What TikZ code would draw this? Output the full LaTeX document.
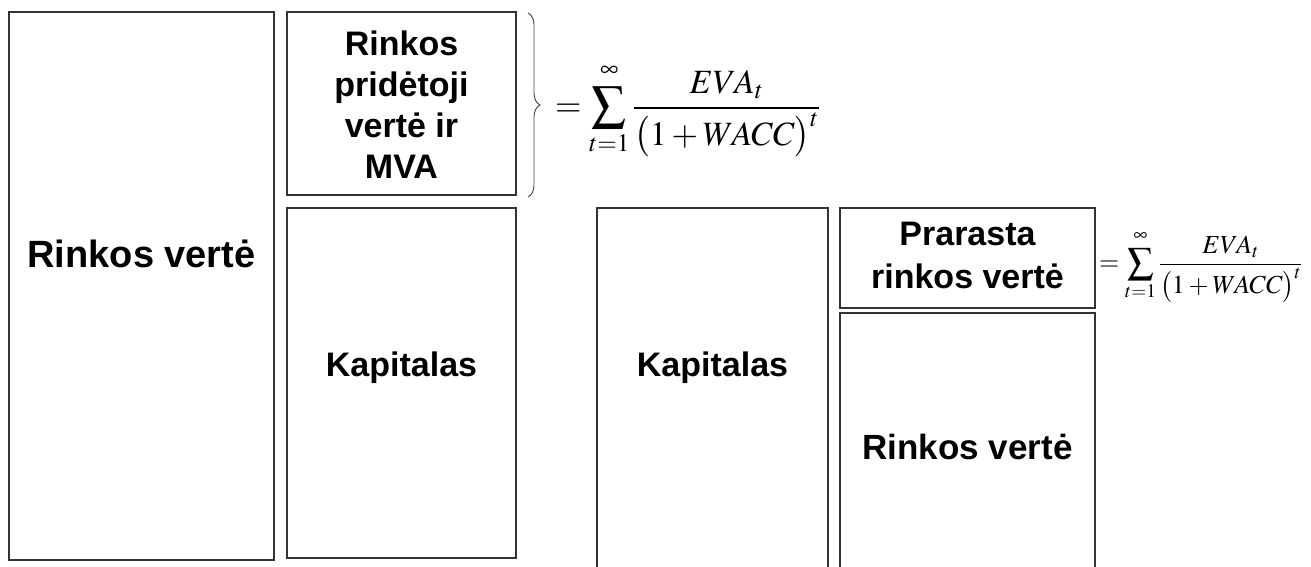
\documentclass[tikz,border=0pt]{standalone}
\usepackage{mathptmx}
\usepackage[no-math]{fontspec}
\setmainfont{Liberation Sans}
\usetikzlibrary{decorations.pathreplacing}

\tikzset{
  panel/.style={draw=black!80, line width=1.4pt, fill=white, inner sep=0pt, outer sep=0pt},
  caption/.style={inner sep=0pt, anchor=base, font=\bfseries},
  formula/.style={inner sep=0pt, anchor=west},
}

% box with corners given in pixels (y measured downwards)
\newcommand\panelbox[5]{%
  \node[panel, minimum width={(#4-#2)*1pt}, minimum height={(#5-#3)*1pt}]
    (#1) at ({(#2+#4)/2}, {-(#3+#5)/2}) {};}

% present value of the future EVA stream
\newcommand\evasum{\displaystyle =\sum_{t=1}^{\rule[-0.2em]{0pt}{0.2em}\infty}\frac{EVA_t}{\bigl(1+WACC\bigr)^t}}

\begin{document}
\begin{tikzpicture}[x=1pt, y=1pt]
  \useasboundingbox (0,0) rectangle (1311,-566);
  \clip (0,0) rectangle (1311,-566);

  % left group: market value split into added value and capital
  \panelbox{mv}{9}{12}{274}{560}
  \panelbox{mva}{287}{12}{516}{195}
  \panelbox{cap}{287}{208}{516}{558}

  % right group: capital split into lost value and market value
  \panelbox{capr}{597}{208}{828}{580}
  \panelbox{lost}{840}{208}{1095}{308}
  \panelbox{mvr}{840}{313}{1095}{580}

  \node[caption, font=\fontsize{38}{44}\selectfont\bfseries] (tmv) at (141.5,-267) {Rinkos vertė};
  \node[caption, font=\fontsize{34}{41}\selectfont\bfseries] (tmva) at (401.5,-55)
    {\begin{tabular}[t]{@{}c@{}}Rinkos\\pridėtoji\\vertė ir\\MVA\end{tabular}};
  \node[caption, font=\fontsize{34}{41}\selectfont\bfseries] (tcap) at (401.5,-376) {Kapitalas};
  \node[caption, font=\fontsize{34}{41}\selectfont\bfseries] (tcapr) at (712.5,-376) {Kapitalas};
  \node[caption, font=\fontsize{34}{43}\selectfont\bfseries] (tlost) at (967.5,-245)
    {\begin{tabular}[t]{@{}c@{}}Prarasta\\rinkos vertė\end{tabular}};
  \node[caption, font=\fontsize{35}{41}\selectfont\bfseries] (tmvr) at (967.5,-459) {Rinkos vertė};

  % brace over the added-value box
  \coordinate (bt) at (528,-13);
  \coordinate (bb) at (528,-197);
  \draw[black!75, line width=0.9pt, decorate, decoration={brace, amplitude=12pt}] (bt) -- (bb);

  \node[formula, font=\fontsize{34}{40}\selectfont] (f1) at (555,-110) {$\evasum$};
  \node[formula, font=\fontsize{26}{31}\selectfont] (f2) at (1099,-266) {$\evasum$};
\end{tikzpicture}
\end{document}
